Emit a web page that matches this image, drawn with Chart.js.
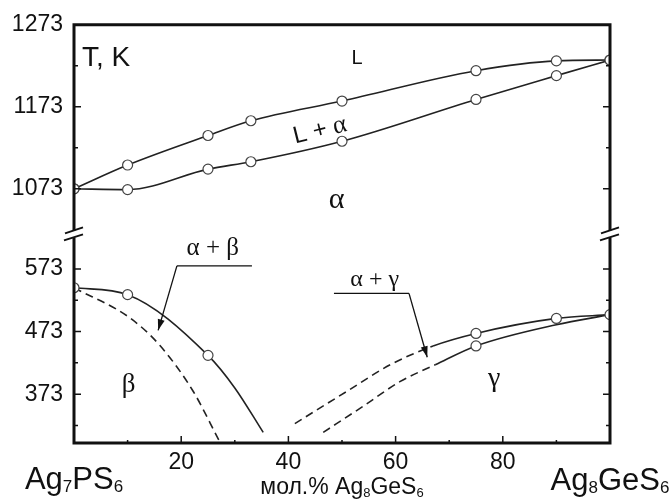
<!DOCTYPE html>
<html lang="ru">
<head>
<meta charset="UTF-8">
<title>Ag7PS6 – Ag8GeS6</title>
<script src="https://cdn.jsdelivr.net/npm/chart.js"></script>
<style>
  html, body { margin: 0; padding: 0; background: #fff; }
  canvas { display: block; }
</style>
</head>
<body>
<canvas id="phase" width="672" height="502"></canvas>
<script>
// x: мол.% Ag8GeS6, y: T, K
const liquidus = [[0,1073],[10,1102],[25,1138],[33,1156],[50,1180],[75,1217],[90,1229],[100,1230]];
const solidus  = [[0,1073],[10,1072],[25,1097],[33,1106],[50,1131],[75,1182],[90,1211],[100,1230]];

// low-temperature part
const alphaBetaLine  = [[0,543],[10,532],[25,435],[30,383],[35.3,312]];
const betaLine       = [[0,543],[10.4,495],[16,451],[22.2,378],[27,300]];
const alphaGammaLine = [[41.2,326],[51,378],[59,420],[67,450],[75,470],[90,494],[100,500]];
const gammaLine      = [[46.5,312],[54,354],[60.8,393],[67.4,420],[75,450],[90,484],[100,500]];
const lowPoints      = [[0,543],[10,532],[25,435],[75,470],[75,450],[90,494],[100,500]];

// the alpha/gamma boundaries are dashed up to these compositions
const alphaGammaDashTo = 67;
const gammaDashTo = 67.4;

const xTicks  = [0,10,20,30,40,50,60,70,80,90,100];
const xLabels = [20,40,60,80];
const hiTicks  = [1073,1123,1173,1223,1273];
const hiLabels = [1073,1173,1273];
const loTicks  = [323,373,423,473,523,573];
const loLabels = [373,473,573];

const SANS = '"Liberation Sans", Arial, sans-serif';
const SERIF = '"Liberation Serif", "Times New Roman", serif';
const INK = '#111';

const pts = a => a.map(([x, y]) => ({ x, y }));

const curve = {
  showLine: true, fill: false,
  borderColor: '#222', borderWidth: 1.6,
  pointRadius: 0, cubicInterpolationMode: 'monotone', order: 2
};
const marks = {
  pointRadius: 5, pointHoverRadius: 5,
  pointBackgroundColor: '#fff', pointBorderColor: '#444', pointBorderWidth: 1.2
};
const dashBelow = lim => ({ borderDash: ctx => ctx.p1.parsed.x <= lim + 0.01 ? [8, 5] : undefined });

function fixTicks(list) {
  return scale => { scale.ticks = list.map(v => ({ value: v })); };
}

// text made of runs: [text, font, dy]
function runs(ctx, parts, x, y, align) {
  let w = 0;
  parts.forEach(p => { ctx.font = p[1]; w += ctx.measureText(p[0]).width; });
  let cx = align === 'center' ? x - w / 2 : align === 'right' ? x - w : x;
  ctx.textAlign = 'left';
  parts.forEach(p => {
    ctx.font = p[1];
    ctx.fillText(p[0], cx, y + (p[2] || 0));
    cx += ctx.measureText(p[0]).width;
  });
}

function arrow(ctx, x1, y1, x2, y2) {
  ctx.beginPath(); ctx.moveTo(x1, y1); ctx.lineTo(x2, y2); ctx.stroke();
  const a = Math.atan2(y2 - y1, x2 - x1), len = 11, half = 3.5;
  ctx.beginPath();
  ctx.moveTo(x2, y2);
  ctx.lineTo(x2 - len * Math.cos(a) + half * Math.sin(a), y2 - len * Math.sin(a) - half * Math.cos(a));
  ctx.lineTo(x2 - len * Math.cos(a) - half * Math.sin(a), y2 - len * Math.sin(a) + half * Math.cos(a));
  ctx.closePath(); ctx.fill();
}

const decor = {
  id: 'decor',
  afterDatasetsDraw(chart) {
    const { ctx, chartArea: { left: l, right: r, top: t, bottom: b } } = chart;
    const xs = chart.scales.x, hi = chart.scales.yHi, lo = chart.scales.yLo;
    const yb = hi.bottom;
    const X = v => xs.getPixelForValue(v);
    const H = v => hi.getPixelForValue(v);
    const L = v => lo.getPixelForValue(v);

    ctx.save();
    ctx.strokeStyle = INK; ctx.fillStyle = INK;

    // frame, broken on both sides
    ctx.lineWidth = 3;
    ctx.beginPath();
    ctx.moveTo(l - 1.5, t); ctx.lineTo(r + 1.5, t);
    ctx.moveTo(l - 1.5, b); ctx.lineTo(r + 1.5, b);
    [l, r].forEach(x => {
      ctx.moveTo(x, t); ctx.lineTo(x, yb - 3.5);
      ctx.moveTo(x, yb + 3.5); ctx.lineTo(x, b);
    });
    ctx.stroke();

    // break marks
    ctx.lineWidth = 2;
    [l, r].forEach(x => {
      ctx.beginPath();
      ctx.moveTo(x - 9, yb - 0.5); ctx.lineTo(x + 9, yb - 6.5);
      ctx.moveTo(x - 10, yb + 6.5); ctx.lineTo(x + 9, yb + 0.5);
      ctx.stroke();
    });

    // inward tick marks
    ctx.lineWidth = 1.5;
    ctx.beginPath();
    [[hi, hiTicks, hiLabels], [lo, loTicks, loLabels]].forEach(([s, list, major]) => {
      list.forEach(v => {
        const y = s.getPixelForValue(v), n = major.includes(v) ? 7 : 4;
        ctx.moveTo(l, y); ctx.lineTo(l + n, y);
        ctx.moveTo(r, y); ctx.lineTo(r - n, y);
      });
    });
    xTicks.slice(1, -1).forEach(v => {
      const n = xLabels.includes(v) ? 7 : 3;
      ctx.moveTo(X(v), b); ctx.lineTo(X(v), b - n);
    });
    ctx.stroke();

    // phase field labels
    ctx.textBaseline = 'alphabetic';
    runs(ctx, [['T, K', '28px ' + SANS]], X(1.5), H(1223), 'left');
    runs(ctx, [['L', '20px ' + SANS]], X(52.8), H(1225), 'center');
    runs(ctx, [['\u03b1', '30px ' + SERIF]], X(49), H(1050), 'center');
    runs(ctx, [['\u03b2', '27px ' + SERIF]], X(10.2), L(376), 'center');
    runs(ctx, [['\u03b3', '28px ' + SERIF]], X(78.4), L(386), 'center');

    ctx.save();
    ctx.translate(X(45.9), H(1144));
    ctx.rotate(-14 * Math.PI / 180);
    ctx.textBaseline = 'middle';
    runs(ctx, [['L + ', '24px ' + SANS], ['\u03b1', '26px ' + SERIF]], 0, 0, 'center');
    ctx.restore();

    runs(ctx, [['\u03b1 + \u03b2', '25px ' + SERIF]], X(25.9), L(596), 'center');
    runs(ctx, [['\u03b1 + \u03b3', '24px ' + SERIF]], X(56.1), L(546), 'center');

    // leaders
    ctx.lineWidth = 1.3;
    ctx.beginPath();
    ctx.moveTo(X(19.2), L(578)); ctx.lineTo(X(33.2), L(578));
    ctx.moveTo(X(48.5), L(534)); ctx.lineTo(X(62.5), L(534));
    ctx.stroke();
    arrow(ctx, X(19.2), L(578), X(15.7), L(475));
    arrow(ctx, X(62.5), L(534), X(65.9), L(432));

    // end members and axis title
    const big = '31px ' + SANS, sub = '17px ' + SANS;
    runs(ctx, [['Ag', big], ['7', sub, 3], ['PS', big], ['6', sub, 3]], X(0), 489, 'center');
    runs(ctx, [['Ag', big], ['8', sub, 3], ['GeS', big], ['6', sub, 3]], X(100), 490, 'center');
    const mid = '23px ' + SANS, msub = '13px ' + SANS;
    runs(ctx, [['\u043c\u043e\u043b.% Ag', mid], ['8', msub, 3], ['GeS', mid], ['6', msub, 3]], X(50), 494, 'center');

    ctx.restore();
  }
};

const tickFont = { family: SANS, size: 23 };

new Chart(document.getElementById('phase'), {
  type: 'scatter',
  data: {
    datasets: [
      { ...curve, ...marks, data: pts(liquidus), yAxisID: 'yHi' },
      { ...curve, ...marks, data: pts(solidus), yAxisID: 'yHi' },
      { ...curve, data: pts(alphaBetaLine), yAxisID: 'yLo' },
      { ...curve, data: pts(betaLine), yAxisID: 'yLo', borderDash: [8, 5] },
      { ...curve, data: pts(alphaGammaLine), yAxisID: 'yLo', segment: dashBelow(alphaGammaDashTo) },
      { ...curve, data: pts(gammaLine), yAxisID: 'yLo', segment: dashBelow(gammaDashTo) },
      { ...marks, data: pts(lowPoints), yAxisID: 'yLo', showLine: false, order: 1 }
    ]
  },
  options: {
    responsive: false,
    animation: false,
    layout: { padding: { top: 15, right: 62, left: 0, bottom: 0 } },
    plugins: { legend: { display: false }, tooltip: { enabled: false } },
    scales: {
      x: {
        type: 'linear', min: 0, max: 100,
        afterBuildTicks: fixTicks(xTicks),
        afterFit: s => { s.height = 59; },
        grid: { display: false, drawTicks: false },
        border: { display: false },
        ticks: {
          autoSkip: false, maxRotation: 0, padding: 6, color: INK, font: tickFont,
          callback: v => xLabels.includes(v) ? String(v) : ''
        }
      },
      // left-hand stack is laid out bottom-up: lower segment first
      yLo: {
        type: 'linear', position: 'left', stack: 'T', stackWeight: 1,
        min: 295, max: 629,
        afterBuildTicks: fixTicks(loTicks),
        afterFit: s => { s.width = 74; },
        grid: { display: false, drawTicks: false },
        border: { display: false },
        ticks: {
          autoSkip: false, padding: 11, color: INK, font: tickFont,
          callback: v => loLabels.includes(v) ? String(v) : ''
        }
      },
      yHi: {
        type: 'linear', position: 'left', stack: 'T', stackWeight: 1,
        min: 1018, max: 1273,
        afterBuildTicks: fixTicks(hiTicks),
        afterFit: s => { s.width = 74; },
        grid: { display: false, drawTicks: false },
        border: { display: false },
        ticks: {
          autoSkip: false, padding: 11, color: INK, font: tickFont,
          callback: v => hiLabels.includes(v) ? String(v) : ''
        }
      }
    }
  },
  plugins: [decor]
});
</script>
</body>
</html>
